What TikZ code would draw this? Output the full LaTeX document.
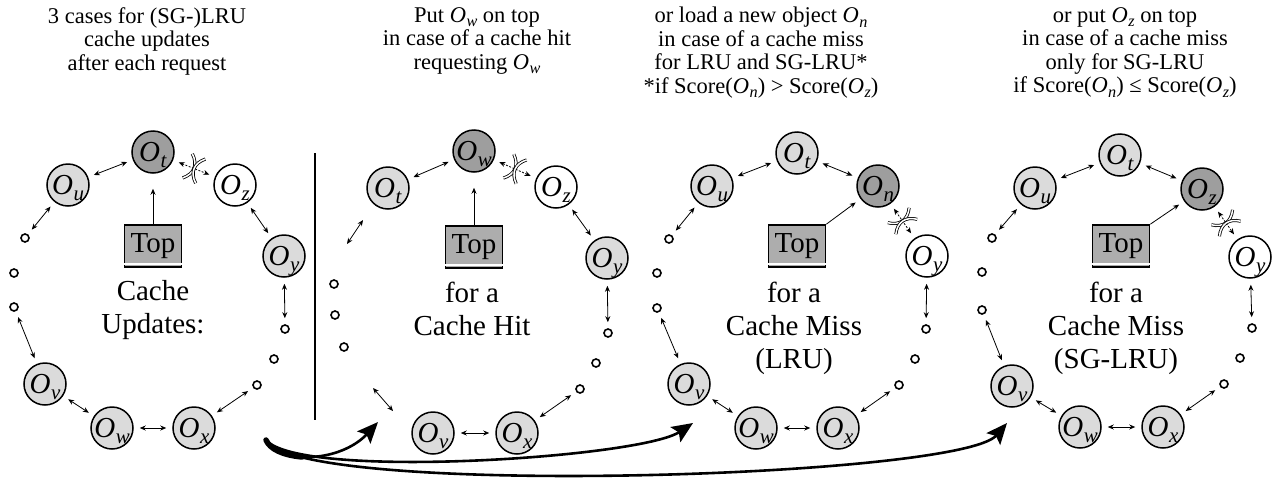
\documentclass[tikz,border=0pt]{standalone}
\usepackage{fontspec}
\setmainfont{Liberation Serif}
\usetikzlibrary{arrows.meta,calc}
\newcommand{\Ob}[1]{\textit{O}\kern0.02em\raisebox{-0.2em}[0pt][0pt]{\scalebox{0.72}{\textit{#1}}}}
\newcommand{\bigfnt}{\fontsize{29}{33}\selectfont}
\newcommand{\ttlfnt}{\fontsize{22.5}{23.5}\selectfont}
\definecolor{dk}{gray}{0.62}
\definecolor{lt}{gray}{0.86}
\definecolor{bx}{gray}{0.68}
\tikzset{
  >={Stealth[length=6pt,width=5pt]},
  obj/.style={circle, draw, line width=1.5pt, minimum size=42pt, inner sep=0pt, font=\bigfnt},
  lo/.style={obj, fill=lt},
  hi/.style={obj, fill=dk},
  wo/.style={obj, fill=white},
  dot/.style={circle, draw, line width=1.6pt, minimum size=8pt, inner sep=0pt, fill=white},
  topbox/.style={draw, fill=bx, line width=1.6pt, minimum width=57pt, minimum height=42pt, inner sep=0pt, font=\bigfnt},
  lnk/.style={<->, line width=0.8pt, shorten <=6pt, shorten >=6pt},
  dlnk/.style={lnk, dash pattern=on 2pt off 1.5pt},
  uparr/.style={->, line width=0.8pt},
  ctext/.style={align=center, font=\bigfnt, inner sep=0pt, anchor=north},
  ttl/.style={align=center, font=\ttlfnt, inner sep=0pt, anchor=north},
  big/.style={line width=2.6pt, -{Stealth[length=21pt,width=18pt,inset=4pt]}},
  brkline/.style={solid, line width=0.8pt, double=white, double distance=1.5pt},
  brk/.pic={
    \draw[brkline] (-7,-13) .. controls (2.2,-5) and (2.2,5) .. (-7,13);
    \draw[brkline] (7,-13) .. controls (-2.2,-5) and (-2.2,5) .. (7,13);
  }
}
\begin{document}
\begin{tikzpicture}[x=1pt,y=-1pt]
\useasboundingbox (0,0) rectangle (1282,477);

% ---------- titles ----------
\node[ttl] (t1) at (147,7) {3 cases for (SG-)LRU\\cache updates\\after each request};
\node[ttl] (t2) at (477,7) {Put \Ob{w} on top\\in case of a cache hit\\requesting \Ob{w}};
\node[ttl] (t3) at (761,7) {or load a new object \Ob{n}\\in case of a cache miss\\for LRU and SG-LRU*\\*if Score(\Ob{n}) > Score(\Ob{z})};
\node[ttl] (t4) at (1125,7) {or put \Ob{z} on top\\in case of a cache miss\\only for SG-LRU\\if Score(\Ob{n}) ≤ Score(\Ob{z})};

% ---------- panel 1 ----------
\node[hi] (a-t) at (153,152) {\Ob{t}};
\node[lo] (a-u) at (68,185) {\Ob{u}};
\node[wo] (a-z) at (235,185) {\Ob{z}};
\node[lo] (a-y) at (284,256) {\Ob{y}};
\node[lo] (a-v) at (45,384) {\Ob{v}};
\node[lo] (a-w) at (112,428) {\Ob{w}};
\node[lo] (a-x) at (194,428) {\Ob{x}};
\node[topbox] (a-top) at (153,246) {Top};
\draw[white, line width=1.5pt] ($(a-top.south west)+(-1,-4)$) -- ($(a-top.south east)+(1,-4)$);
\node[dot] (a-l1) at (25,238) {};
\node[dot] (a-l2) at (14,273) {};
\node[dot] (a-l3) at (14,307) {};
\node[dot] (a-r1) at (285,329) {};
\node[dot] (a-r2) at (274,359) {};
\node[dot] (a-r3) at (257,385) {};
\node[ctext] (a-txt) at (153,280) {Cache\\Updates:};
\draw[lnk] (a-u) -- (a-t);
\draw[dlnk] (a-t) -- (a-z);
\path (a-t) -- (a-z) pic[pos=0.5, sloped]{brk};
\draw[lnk] (a-z) -- (a-y);
\draw[lnk] (a-y) -- (a-r1);
\draw[lnk] (a-r3) -- (a-x);
\draw[lnk] (a-x) -- (a-w);
\draw[lnk] (a-w) -- (a-v);
\draw[lnk] (a-v) -- (a-l3);
\draw[lnk] (a-l1) -- (a-u);
\draw[uparr, shorten >=15pt] (a-top) -- (a-t);

% separator
\draw[line width=1.4pt] (315,153) -- (315,420);

% ---------- panel 2 ----------
\node[hi] (b-w) at (474,151) {\Ob{w}};
\node[lo] (b-t) at (388,188) {\Ob{t}};
\node[wo] (b-z) at (556,187) {\Ob{z}};
\node[lo] (b-y) at (607,258) {\Ob{y}};
\node[lo] (b-v) at (433,433) {\Ob{v}};
\node[lo] (b-x) at (517,433) {\Ob{x}};
\node[topbox] (b-top) at (474,247) {Top};
\draw[white, line width=1.5pt] ($(b-top.south west)+(-1,-4)$) -- ($(b-top.south east)+(1,-4)$);
\node[dot] (b-l1) at (334,284) {};
\node[dot] (b-l2) at (335,315) {};
\node[dot] (b-l3) at (344,347) {};
\node[dot] (b-r1) at (608,333) {};
\node[dot] (b-r2) at (596,363) {};
\node[dot] (b-r3) at (580,389) {};
\coordinate (b-f1) at (363,220);
\coordinate (b-f2) at (347,244);
\coordinate (b-f3) at (373,388);
\coordinate (b-f4) at (393,411);
\node[ctext] (b-txt) at (472,282) {for a\\Cache Hit};
\draw[lnk] (b-t) -- (b-w);
\draw[dlnk] (b-w) -- (b-z);
\path (b-w) -- (b-z) pic[pos=0.5, sloped]{brk};
\draw[lnk] (b-z) -- (b-y);
\draw[lnk] (b-y) -- (b-r1);
\draw[lnk] (b-r3) -- (b-x);
\draw[lnk] (b-x) -- (b-v);
\draw[<->, line width=0.8pt] (b-f1) -- (b-f2);
\draw[<->, line width=0.8pt] (b-f3) -- (b-f4);
\draw[uparr, shorten >=15pt] (b-top) -- (b-w);

% ---------- panel 3 ----------
\node[lo] (c-t) at (797,153) {\Ob{t}};
\node[lo] (c-u) at (712,186) {\Ob{u}};
\node[hi] (c-n) at (878,186) {\Ob{n}};
\node[wo] (c-y) at (927,256) {\Ob{y}};
\node[lo] (c-v) at (689,384) {\Ob{v}};
\node[lo] (c-w) at (756,428) {\Ob{w}};
\node[lo] (c-x) at (838,428) {\Ob{x}};
\node[topbox] (c-top) at (797,246) {Top};
\draw[white, line width=1.5pt] ($(c-top.south west)+(-1,-4)$) -- ($(c-top.south east)+(1,-4)$);
\node[dot] (c-l1) at (669,239) {};
\node[dot] (c-l2) at (657,273) {};
\node[dot] (c-l3) at (657,308) {};
\node[dot] (c-r1) at (926,329) {};
\node[dot] (c-r2) at (915,359) {};
\node[dot] (c-r3) at (899,385) {};
\node[ctext] (c-txt) at (794,282) {for a\\Cache Miss\\(LRU)};
\draw[lnk] (c-u) -- (c-t);
\draw[lnk] (c-t) -- (c-n);
\draw[dlnk] (c-n) -- (c-y);
\path (c-n) -- (c-y) pic[pos=0.5, sloped]{brk};
\draw[lnk] (c-y) -- (c-r1);
\draw[lnk] (c-r3) -- (c-x);
\draw[lnk] (c-x) -- (c-w);
\draw[lnk] (c-w) -- (c-v);
\draw[lnk] (c-v) -- (c-l3);
\draw[lnk] (c-l1) -- (c-u);
\draw[uparr, shorten >=6pt] (c-top.north east) -- (c-n);

% ---------- panel 4 ----------
\node[lo] (d-t) at (1120,155) {\Ob{t}};
\node[lo] (d-u) at (1035,188) {\Ob{u}};
\node[hi] (d-z) at (1202,189) {\Ob{z}};
\node[wo] (d-y) at (1250,257) {\Ob{y}};
\node[lo] (d-v) at (1012,386) {\Ob{v}};
\node[lo] (d-w) at (1080,427) {\Ob{w}};
\node[lo] (d-x) at (1163,427) {\Ob{x}};
\node[topbox] (d-top) at (1121,246) {Top};
\draw[white, line width=1.5pt] ($(d-top.south west)+(-1,-4)$) -- ($(d-top.south east)+(1,-4)$);
\node[dot] (d-l1) at (992,238) {};
\node[dot] (d-l2) at (982,272) {};
\node[dot] (d-l3) at (982,310) {};
\node[dot] (d-r1) at (1252,328) {};
\node[dot] (d-r2) at (1240,358) {};
\node[dot] (d-r3) at (1224,384) {};
\node[ctext] (d-txt) at (1116,282) {for a\\Cache Miss\\(SG-LRU)};
\draw[lnk] (d-u) -- (d-t);
\draw[lnk] (d-t) -- (d-z);
\draw[dlnk] (d-z) -- (d-y);
\path (d-z) -- (d-y) pic[pos=0.5, sloped]{brk};
\draw[lnk] (d-y) -- (d-r1);
\draw[lnk] (d-r3) -- (d-x);
\draw[lnk] (d-x) -- (d-w);
\draw[lnk] (d-w) -- (d-v);
\draw[lnk] (d-v) -- (d-l3);
\draw[lnk] (d-l1) -- (d-u);
\draw[uparr, shorten >=6pt] (d-top.north east) -- (d-z);

% ---------- big arrows ----------
\coordinate (s) at (266,440);
\coordinate (e1) at (378,422);
\coordinate (e2) at (693,423);
\coordinate (e3) at (1007,423);
\draw[line width=5.5pt, line cap=round] (s) .. controls (270,449) and (282,455) .. (302,457);
\draw[big] (s) .. controls (290,468) and (345,458) .. (e1);
\draw[big] (s) .. controls (300,480) and (640,458) .. (e2);
\draw[big] (s) .. controls (300,498) and (960,478) .. (e3);
\end{tikzpicture}
\end{document}
